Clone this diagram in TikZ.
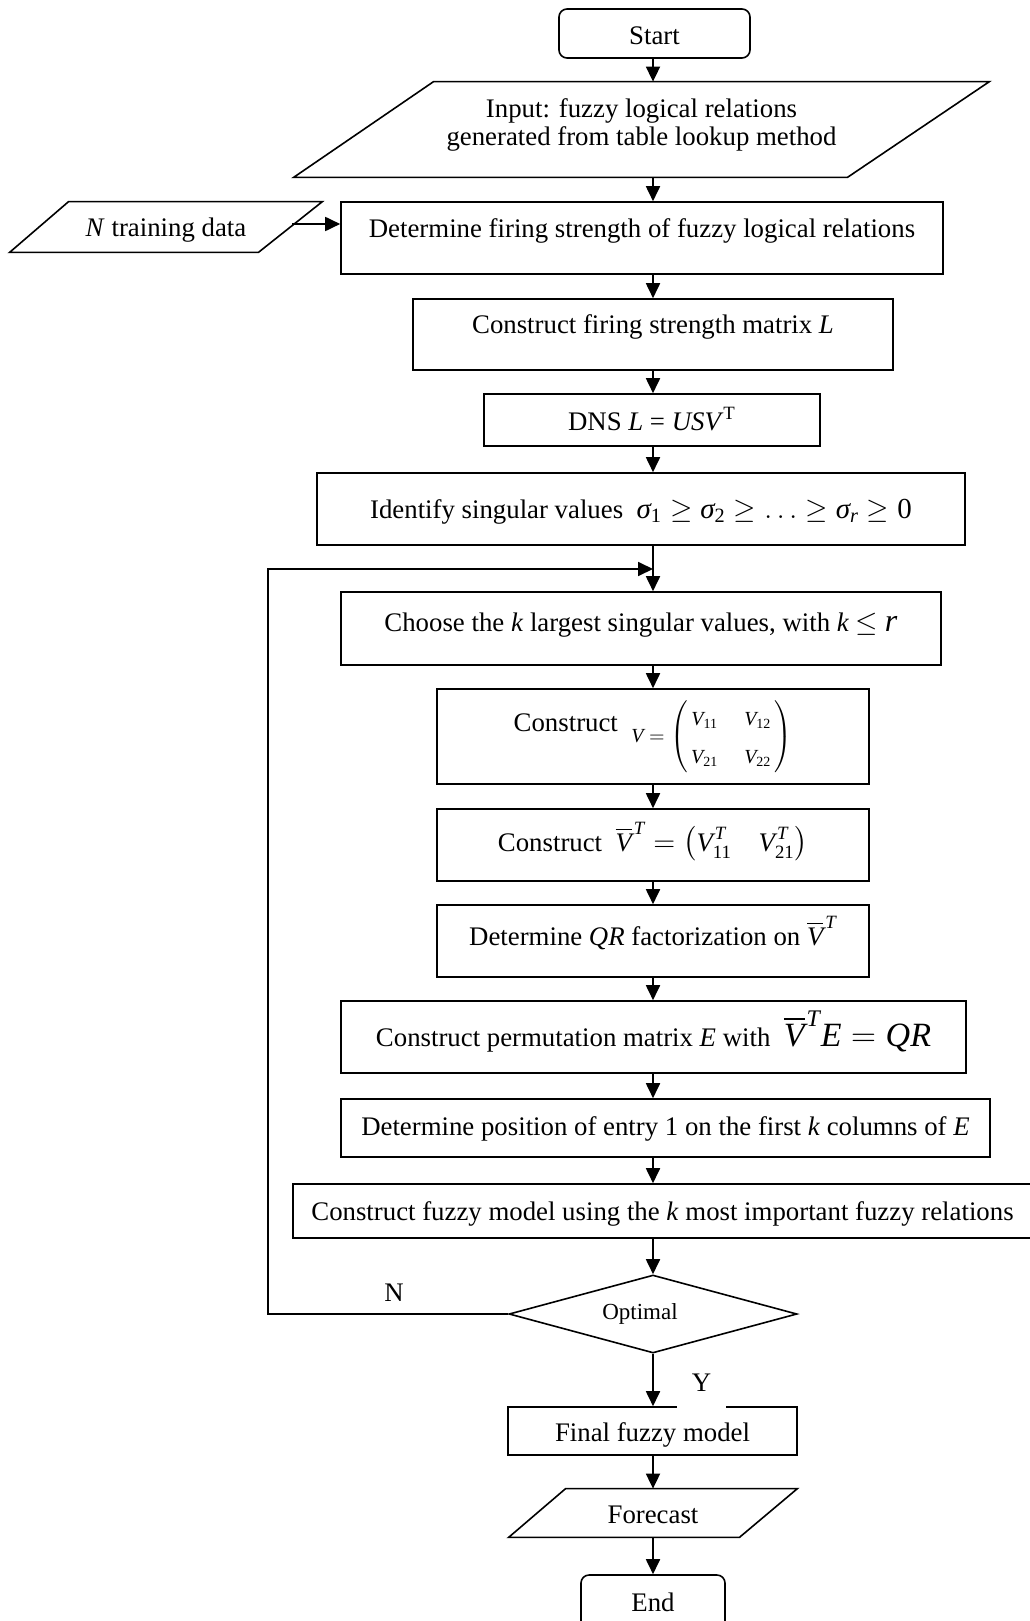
\documentclass[tikz,border=0pt]{standalone}
\usepackage{amsmath}
\usepackage{fontspec}
\setmainfont{Liberation Serif}
\usetikzlibrary{arrows.meta,shapes.geometric}
\newcommand\itx[1]{\textit{#1}}
\newcommand\vbt{\overline{\itx{V}}^{\hspace{1pt}\itx{T}}}
\begin{document}
\begin{tikzpicture}[x=0.5pt,y=-0.5pt,
  every node/.style={font=\fontsize{13.4}{14}\selectfont},
  box/.style={draw, line width=0.8pt, inner sep=0pt, anchor=base},
  rbox/.style={box, rounded corners=4pt},
  para/.style={inner sep=0pt, anchor=base},
  arr/.style={line width=0.9pt, -{Triangle[length=7.5pt,width=7pt]}},
  pline/.style={line width=0.8pt}]
\useasboundingbox (0,0) rectangle (1029,1621);
\coordinate (ax) at (653,0);

% nodes
\node[rbox, minimum width=95.5pt, text height=18pt, text depth=6.5pt] (start) at (654.5,45) {Start};

\node[para, minimum width=347.5pt, text height=32pt, text depth=15.5pt] (input) at (641.5,146)
  {\begin{tabular}[b]{@{}c@{}}Input: fuzzy logical relations\\generated from table lookup method\end{tabular}};
\draw[pline] ([xshift=70pt]input.north west) -- (input.north east) -- ([xshift=-71pt]input.south east) -- (input.south west) -- cycle;

\node[para, minimum width=156pt, text height=17pt, text depth=8pt] (train) at (166,236) {\itx{N} training data};
\draw[pline] ([xshift=29.5pt]train.north west) -- (train.north east) -- ([xshift=-32pt]train.south east) -- (train.south west) -- cycle;

\node[box, minimum width=301pt, text height=18pt, text depth=18pt] (det) at (642,238) {Determine firing strength of fuzzy logical relations};

\node[box, minimum width=240pt, text height=17pt, text depth=18.5pt] (cfs) at (653,333) {Construct firing strength matrix \itx{L}};

\node[box, minimum width=168pt, text height=18pt, text depth=8pt] (dns) at (652,430) {DNS \itx{L} = \itx{USV}\textsuperscript{T}};

\node[box, minimum width=324pt, text height=22.5pt, text depth=13.5pt] (ident) at (641,518)
  {Identify singular values\ \ {\fontsize{14.5}{16}\selectfont$\itx{σ}_{\textrm{1}}\geq\itx{σ}_{\textrm{2}}\geq\ldots\geq\itx{σ}_{\itx{r}}\geq\textrm{0}$}};

\node[box, minimum width=300pt, text height=19.5pt, text depth=17pt] (choose) at (641,631)
  {Choose the \itx{k} largest singular values, with \itx{k} $\leq$ {\fontsize{16}{18}\selectfont\itx{r}}};

\node[box, minimum width=216pt, text height=26.5pt, text depth=21pt] (cv) at (653,742)
  {\raisebox{5.5pt}{Construct}\ \ {\fontsize{10}{12}\selectfont\renewcommand\arraystretch{1.55}$\itx{V}=\left(\begin{array}{@{\,}c@{\hspace{13pt}}c@{\,}}\itx{V}_{\textrm{11}} & \itx{V}_{\textrm{12}}\\ \itx{V}_{\textrm{21}} & \itx{V}_{\textrm{22}}\end{array}\right)$}};

\node[box, minimum width=216pt, text height=21pt, text depth=15pt] (vbar) at (653,851)
  {Construct\ \ $\vbt = \left(\rule[-5pt]{0pt}{15pt}\itx{V}_{\textrm{11}}^{\hspace{1pt}\itx{T}}\quad \itx{V}_{\textrm{21}}^{\hspace{1pt}\itx{T}}\right)$};

\node[box, minimum width=216pt, text height=20pt, text depth=16pt] (qr) at (653,945)
  {Determine \itx{QR} factorization on $\vbt$};

\node[box, minimum width=312.5pt, text height=22.5pt, text depth=13.5pt] (perm) at (653.5,1046)
  {Construct permutation matrix \itx{E} with\ \ {\fontsize{17}{20}\selectfont$\vbt\itx{E}=\itx{QR}$}};

\node[box, minimum width=324.5pt, text height=18pt, text depth=11pt] (dpos) at (665.5,1135)
  {Determine position of entry 1 on the first \itx{k} columns of \itx{E}};

\node[box, minimum width=369.5pt, text height=18pt, text depth=9pt] (fuzzy) at (662.5,1220)
  {Construct fuzzy model using the \itx{k} most important fuzzy relations};

\node[draw, diamond, aspect=3.7, line width=0.8pt, inner sep=0pt, minimum width=144pt, minimum height=39pt,
  font=\fontsize{11.5}{13}\selectfont] (opt) at (653,1314) {Optimal\hspace*{13pt}};

\node (nlab) at (394,1293) {N};

\node[box, minimum width=144.5pt, text height=17pt, text depth=7pt] (final) at (652.5,1441) {Final fuzzy model};
\node[fill=white, inner sep=0pt, anchor=base, minimum width=24.5pt, text height=10pt, text depth=9pt] (ylab) at (701.5,1391) {Y};

\node[para, minimum width=144pt, text height=17pt, text depth=7pt] (fc) at (653,1523) {Forecast};
\draw[pline] ([xshift=28.5pt]fc.north west) -- (fc.north east) -- ([xshift=-29pt]fc.south east) -- (fc.south west) -- cycle;

\node[rbox, minimum width=72pt, text height=18pt, text depth=14.5pt] (stop) at (653,1611) {End};

% connectors
\draw[arr] (start.south -| ax) -- (input.north -| ax);
\draw[arr] (input.south -| ax) -- (det.north -| ax);
\coordinate (trout) at (292,224);
\draw[arr] (trout) -- (trout -| det.west);
\draw[arr] (det.south -| ax) -- (cfs.north -| ax);
\draw[arr] (cfs.south -| ax) -- (dns.north -| ax);
\draw[arr] (dns.south -| ax) -- (ident.north -| ax);
\draw[arr] (ident.south -| ax) -- (choose.north -| ax);
\draw[arr] (choose.south -| ax) -- (cv.north -| ax);
\draw[arr] (cv.south -| ax) -- (vbar.north -| ax);
\draw[arr] (vbar.south -| ax) -- (qr.north -| ax);
\draw[arr] (qr.south -| ax) -- (perm.north -| ax);
\draw[arr] (perm.south -| ax) -- (dpos.north -| ax);
\draw[arr] (dpos.south -| ax) -- (fuzzy.north -| ax);
\draw[arr] (fuzzy.south -| ax) -- (opt.north);
\coordinate (join) at (653,569);
\coordinate (loopx) at (268,0);
\draw[arr] (opt.west) -- (opt.west -| loopx) -- (join -| loopx) -- (join);
\draw[arr] (opt.south) -- (final.north -| ax);
\draw[arr] (final.south -| ax) -- (fc.north -| ax);
\draw[arr] (fc.south -| ax) -- (stop.north -| ax);
\end{tikzpicture}
\end{document}
